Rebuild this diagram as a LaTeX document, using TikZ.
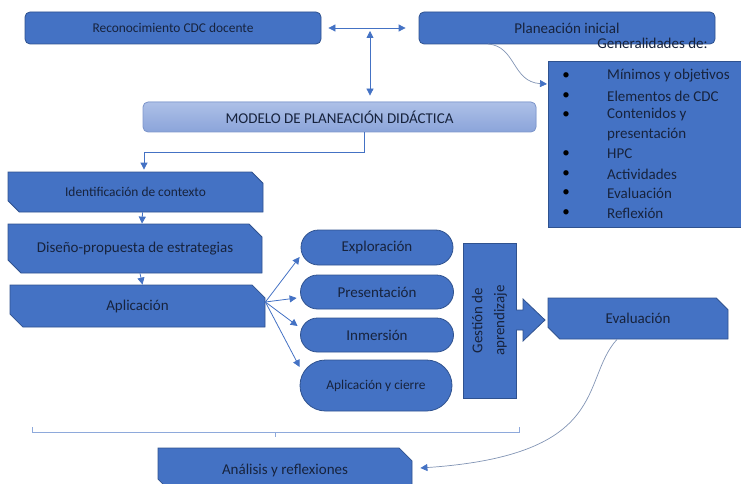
\documentclass[tikz,border=0pt]{standalone}
\usepackage{fontspec}
\setmainfont{Carlito}
\usetikzlibrary{shapes.misc,arrows.meta,calc}
\definecolor{boxfill}{HTML}{4472C4}
\definecolor{boxline}{HTML}{2F528F}
\definecolor{txt}{HTML}{17233D}
\definecolor{conn}{HTML}{4472C4}
\definecolor{curvec}{HTML}{8194B4}
\definecolor{brk}{HTML}{8EA9DB}
\definecolor{modtop}{HTML}{ADC0E7}
\definecolor{modbot}{HTML}{8BA4DA}
\definecolor{modline}{HTML}{7F97CB}
\begin{document}
\begin{tikzpicture}[x=1pt,y=-1pt,
  base/.style={fill=boxfill,draw=boxline,line width=0.8pt,text=txt,inner sep=0pt,font=\fontsize{15}{18}\selectfont},
  rbox/.style={base,rectangle,rounded corners=5pt},
  cbox/.style={base,chamfered rectangle,chamfered rectangle corners={north east,south west},chamfered rectangle xsep=6.5pt,chamfered rectangle ysep=6.5pt},
  oval/.style={base,rounded rectangle},
  small/.style={font=\fontsize{13.4}{16}\selectfont},
  link/.style={draw=conn,line width=0.8pt,-{Triangle[length=7pt,width=7pt]}},
  dlink/.style={draw=conn,line width=0.8pt,{Triangle[length=7pt,width=7pt]}-{Triangle[length=7pt,width=7pt]}},
  clink/.style={draw=curvec,line width=0.7pt,-{Triangle[length=7pt,width=7pt,color=conn]}},
  listtxt/.style={anchor=west,text=txt,inner sep=0pt,font=\fontsize{15}{18}\selectfont},
  bul/.style={text=black,inner sep=0pt,font=\fontsize{15}{18}\selectfont}
]
\useasboundingbox (0,0) rectangle (741,484);

% top row
\node[rbox,small,minimum width=296pt,minimum height=32pt] (reco) at (173,28) {Reconocimiento CDC docente};
\node[rbox,minimum width=296pt,minimum height=32pt] (plan) at (567,28) {Planeación inicial};
\node[base,rectangle,rounded corners=5pt,top color=modtop,bottom color=modbot,draw=modline,minimum width=393pt,minimum height=30pt] (modelo) at (339.5,117) {MODELO DE PLANEACIÓN DIDÁCTICA};

% list box
\node[base,rectangle,minimum width=194pt,minimum height=166pt] (lista) at (645,144) {};
\node[text=txt,inner sep=0pt,font=\fontsize{15}{18}\selectfont] (gen) at (652.5,43) {Generalidades de:};
\foreach \i/\t/\y in {1/Mínimos y objetivos/76,2/Elementos de CDC/96,3/Contenidos y/115,5/HPC/154,6/Actividades/174,7/Evaluación/193,8/Reflexión/213}{
  \node[bul] (b\i) at (566,\y) {\textbullet};
  \node[listtxt] (t\i) at (607,\y) {\t};
}
\node[listtxt] (t4) at (607,135) {presentación};

% connectors top
\draw[dlink] ([xshift=7pt]reco.east) -- ([xshift=-13pt]plan.west);
\coordinate (vt) at (370,31);
\draw[dlink] (vt) -- ([yshift=6pt]vt |- modelo.north);
\coordinate (pc) at (488,44);
\coordinate (pe) at (547,84);
\draw[clink] (pc) .. controls (516,46) and (512,82) .. (pe);

% left column
\node[cbox,small,minimum width=255pt,minimum height=40pt] (ident) at (135.5,192) {Identificación de contexto};
\node[cbox,minimum width=254pt,minimum height=49pt] (diseno) at (135,248.5) {Diseño-propuesta de estrategias};
\node[cbox,minimum width=255pt,minimum height=42pt] (aplic) at (137.5,306) {Aplicación};

\coordinate (m1) at (364,152);
\draw[link] (m1 |- modelo.south) -- (m1) -| ([xshift=8.5pt,yshift=2pt]ident.north);
\draw[link] ([xshift=7pt]ident.south) -- ([xshift=7pt]diseno.north);
\draw[link] ([xshift=5pt]diseno.south) -- ([xshift=5pt]aplic.north);

% ovals
\node[oval,minimum width=152pt,minimum height=35pt] (explor) at (377,247.5) {Exploración};
\node[oval,minimum width=153pt,minimum height=34pt] (present) at (377,292) {Presentación};
\node[oval,minimum width=153pt,minimum height=34pt] (inmer) at (377,335) {Inmersión};
\node[oval,small,minimum width=152pt,minimum height=51pt] (cierre) at (376,385.5) {Aplicación y cierre};

\coordinate (ap) at ([yshift=4pt]aplic.east);
\draw[link] (ap) -- ([xshift=-1pt,yshift=-9.5pt]explor.west);
\draw[link] (ap) -- ([xshift=-3.5pt,yshift=-6pt]present.west);
\draw[link] (ap) -- ([xshift=-2.5pt,yshift=9pt]inmer.west);
\draw[link] (ap) -- ([xshift=0pt,yshift=18.5pt]cierre.west);

% gestion
\node[base,rectangle,rotate=90,align=center,font=\fontsize{15}{22}\selectfont,minimum width=155pt,minimum height=53pt] (gestion) at (489.5,320.5) {Gestión de\\aprendizaje};
\path[fill=boxfill,draw=boxline,line width=0.8pt] (516,310) -- (523,310) -- (523,299) -- (545,320) -- (523,341) -- (523,330) -- (516,330);

% evaluacion
\node[cbox,minimum width=180pt,minimum height=41pt] (eval) at (638,318.5) {Evaluación};

% bracket
\draw[brk,line width=0.8pt] (32,427) -- (32,432) -- (519,432) -- (519,427);
\draw[brk,line width=0.8pt] (275,432) -- (275,437);

% analisis
\node[cbox,minimum width=254pt,minimum height=44pt] (anal) at (285,470) {Análisis y reflexiones};
\draw[clink] ([xshift=-21pt]eval.south) .. controls (580,380) and (612,455) .. ([xshift=8pt,yshift=2pt]anal.east);
\end{tikzpicture}
\end{document}
